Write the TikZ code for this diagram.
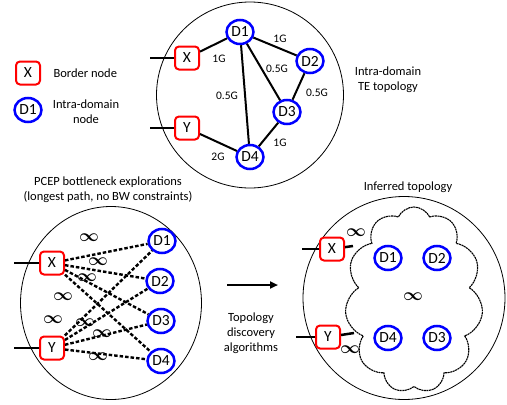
\documentclass[tikz,border=0pt]{standalone}
\usepackage{fontspec}
\setmainfont{Carlito}
\usetikzlibrary{positioning, arrows.meta, shapes.geometric, shapes.symbols}

\begin{document}
\begin{tikzpicture}[
    x=1pt, y=-1pt,
    border/.style={rectangle, rounded corners=4pt, draw=red, line width=2pt, minimum width=24pt, minimum height=23pt, inner sep=0pt, fill=white, font=\fontsize{15.5}{15.5}\selectfont},
    intra/.style={ellipse, draw=blue, line width=2.5pt, minimum width=27pt, minimum height=24pt, inner sep=0pt, fill=white, font=\fontsize{15.5}{15.5}\selectfont},
    region/.style={ellipse, draw, line width=0.8pt, inner sep=0pt},
    link/.style={line width=2pt},
    probe/.style={line width=2.4pt, dash pattern=on 3.5pt off 2pt},
    bw/.style={font=\fontsize{11.5}{11.5}\selectfont, inner sep=0pt},
    inf/.style={font=\boldmath\fontsize{19}{19}\selectfont, inner sep=0pt},
    caption/.style={font=\fontsize{12.5}{15}\selectfont, align=center}
]
    \useasboundingbox (0,0) rectangle (507,405);

    % Legend
    \node[border] (lx) at (28,73) {X};
    \node[caption, right=9pt of lx] (lxt) {Border node};
    \node[intra] (ld) at (28,110) {D1};
    \node[caption] (ldt) at (86,112) {Intra-domain\\node};

    % Intra-domain TE topology
    \node[region, minimum width=187pt, minimum height=186pt] (top) at (250,95) {};
    \node[caption] (toplbl) at (388,80) {Intra-domain\\TE topology};
    \node[border] (x) at (187,58) {X};
    \node[border] (y) at (187,128) {Y};
    \node[intra] (d1) at (240,32) {D1};
    \node[intra] (d2) at (310,61) {D2};
    \node[intra] (d3) at (287,112) {D3};
    \node[intra] (d4) at (250,157) {D4};
    \coordinate (xin) at (150,58);
    \coordinate (yin) at (150,128);
    \draw[link] (xin) -- (x);
    \draw[link] (yin) -- (y);
    \draw[link] (x) -- (d1);
    \draw[link] (d1) -- (d2);
    \draw[link] (d1) -- (d3);
    \draw[link] (d2) -- (d3);
    \draw[link] (d1) -- (d4);
    \draw[link] (d3) -- (d4);
    \draw[link] (y) -- (d4);
    \node[bw] (bxd1) at (219,59) {1G};
    \node[bw] (bd1d2) at (280,39) {1G};
    \node[bw] (bd1d3) at (277,69) {0.5G};
    \node[bw] (bd2d3) at (317,93) {0.5G};
    \node[bw] (bd1d4) at (227,96) {0.5G};
    \node[bw] (bd3d4) at (280,143) {1G};
    \node[bw] (byd4) at (218,157) {2G};

    % PCEP bottleneck explorations
    \node[caption] (pceplbl) at (108,190) {PCEP bottleneck explorations\\(longest path, no BW constraints)};
    \node[region, minimum width=181pt, minimum height=193pt] (pcep) at (111,303) {};
    \node[border] (px) at (52,263) {X};
    \node[border] (py) at (52,348) {Y};
    \node[intra] (p1) at (162,241) {D1};
    \node[intra] (p2) at (160,281) {D2};
    \node[intra] (p3) at (161,321) {D3};
    \node[intra] (p4) at (161,361) {D4};
    \coordinate (pxin) at (14,263);
    \coordinate (pyin) at (14,348);
    \draw[link] (pxin) -- (px);
    \draw[link] (pyin) -- (py);
    \foreach \d in {1,...,4} {
        \draw[probe] (px) -- (p\d);
        \draw[probe] (py) -- (p\d);
    }
    \node[inf] (i1) at (89,238) {$\infty$};
    \node[inf] (i2) at (98,262) {$\infty$};
    \node[inf] (i3) at (87,278) {$\infty$};
    \node[inf] (i4) at (63,297) {$\infty$};
    \node[inf] (i5) at (53,320) {$\infty$};
    \node[inf] (i6) at (85,323) {$\infty$};
    \node[inf] (i7) at (102,334) {$\infty$};
    \node[inf] (i8) at (98,357) {$\infty$};

    % Topology discovery
    \coordinate (astart) at (227,285);
    \coordinate (aend) at (278,285);
    \draw[link, -{Triangle[length=8pt, width=7pt]}] (astart) -- (aend);
    \node[caption] (alg) at (251,333) {Topology\\discovery\\algorithms};

    % Inferred topology
    \node[caption] (inflbl) at (408,187) {Inferred topology};
    \node[region, minimum width=202pt, minimum height=203pt] (infer) at (404,298) {};
    \node[cloud, cloud puffs=11, cloud puff arc=130, aspect=0.75, draw, line width=1.1pt, dash pattern=on 2pt off 0.6pt, minimum width=138pt, minimum height=186pt, inner sep=0pt] (cl) at (414,300) {};
    \node[border] (ix) at (332,249) {X};
    \node[border] (iy) at (328,337) {Y};
    \node[intra] (c1) at (388,258) {D1};
    \node[intra] (c2) at (437,258) {D2};
    \node[intra] (c4) at (388,338) {D4};
    \node[intra] (c3) at (437,338) {D3};
    \node[inf] (ic) at (413,297) {$\infty$};
    \coordinate (ixin) at (302,249);
    \coordinate (iyin) at (296,337);
    \coordinate (ixe) at (353,246);
    \coordinate (iye) at (354,333);
    \draw[link] (ixin) -- (ix);
    \draw[link] (iyin) -- (iy);
    \draw[link, line width=2.5pt] (ix) -- (ixe);
    \draw[link, line width=2.5pt] (iy) -- (iye);
    \node[inf] (ixl) at (356,233) {$\infty$};
    \node[inf] (iyl) at (350,350) {$\infty$};
\end{tikzpicture}
\end{document}
